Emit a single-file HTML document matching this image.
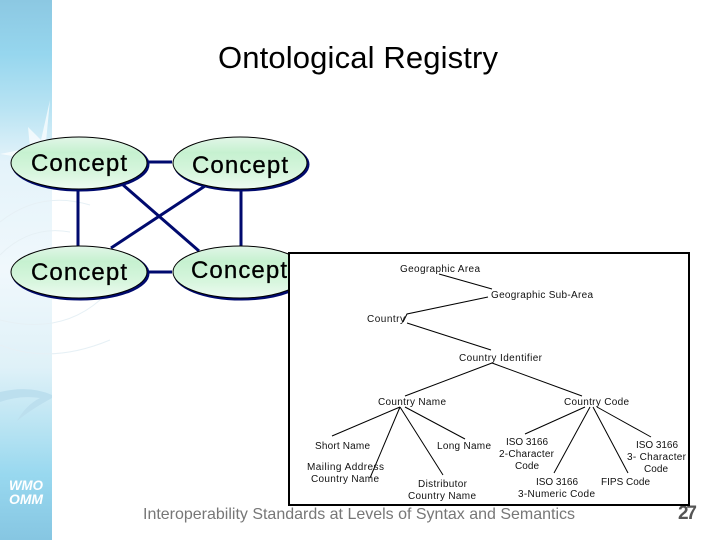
<!DOCTYPE html>
<html><head><meta charset="utf-8"><style>
html,body{margin:0;padding:0;background:#fff}
svg{display:block}
text{font-family:"Liberation Sans",sans-serif}
</style></head><body>
<svg width="720" height="540" viewBox="0 0 720 540" xmlns="http://www.w3.org/2000/svg">
<defs>
<linearGradient id="side" x1="0" y1="0" x2="0" y2="1">
<stop offset="0" stop-color="#8cc8e2"/><stop offset=".1" stop-color="#96d6ee"/><stop offset=".2" stop-color="#b8e3f3"/>
<stop offset=".3" stop-color="#e4f3fa"/><stop offset=".5" stop-color="#f0f8fc"/><stop offset=".68" stop-color="#dff1f8"/>
<stop offset=".78" stop-color="#bde5f3"/><stop offset=".88" stop-color="#98d8ef"/><stop offset="1" stop-color="#86c6e2"/>
</linearGradient>
<linearGradient id="ell" x1="0" y1="0" x2="0" y2="1">
<stop offset="0" stop-color="#e2f6e8"/><stop offset=".3" stop-color="#c6f1d0"/><stop offset=".7" stop-color="#d8f6de"/><stop offset="1" stop-color="#eefbf2"/>
</linearGradient>
</defs>
<rect width="720" height="540" fill="#fff"/>
<rect x="0" y="0" width="52" height="540" fill="url(#side)"/>
<path d="M50 100L46 142L52 150V162L38 160L0 154L30 148L28 127L41 140Z" fill="#fff" opacity=".7"/>
<g fill="none" stroke="#e6f0f5" stroke-width="1">
<path d="M0 222Q40 190 90 205"/><path d="M0 255Q30 225 70 232"/><path d="M0 320Q60 335 100 300"/><path d="M0 345Q50 365 110 340"/>
</g>
<path d="M0 392Q30 385 52 395V398Q30 410 17 421Q26 405 40 398Q20 395 0 402Z" fill="#bcdfee"/>
<text x="9" y="490" font-size="14" font-weight="bold" font-style="italic" fill="#fff" textLength="34" lengthAdjust="spacingAndGlyphs">WMO</text>
<text x="9" y="504" font-size="14" font-weight="bold" font-style="italic" fill="#fff" textLength="34" lengthAdjust="spacingAndGlyphs">OMM</text>

<text x="218" y="68" font-size="31" fill="#000" textLength="280">Ontological Registry</text>

<g stroke="#000a6e" stroke-width="3" fill="none">
<path d="M147 162H172M147 272H172M78 189V246M241 189V246M122 184L199 251M205 186L111 248"/>
</g>
<g stroke="#000" stroke-width="1" fill="url(#ell)">
<ellipse cx="80.5" cy="164.5" rx="68" ry="26" stroke="#000a6e" stroke-width="2" fill="#000a6e"/>
<ellipse cx="79" cy="163" rx="68" ry="26"/>
<ellipse cx="241.5" cy="164.5" rx="67" ry="26" stroke="#000a6e" stroke-width="2" fill="#000a6e"/>
<ellipse cx="240" cy="163" rx="67" ry="26"/>
<ellipse cx="80.5" cy="273.5" rx="68" ry="26" stroke="#000a6e" stroke-width="2" fill="#000a6e"/>
<ellipse cx="79" cy="272" rx="68" ry="26"/>
<ellipse cx="241.5" cy="273.5" rx="67" ry="26" stroke="#000a6e" stroke-width="2" fill="#000a6e"/>
<ellipse cx="240" cy="272" rx="67" ry="26"/>
</g>
<g font-size="24" fill="#000" stroke="#000" stroke-width=".3">
<text x="31" y="171" textLength="96">Concept</text>
<text x="192" y="173" textLength="96">Concept</text>
<text x="31" y="280" textLength="96">Concept</text>
<text x="191" y="278" textLength="96">Concept</text>
</g>

<text x="143" y="519" font-size="16" fill="#777" textLength="432">Interoperability Standards at Levels of Syntax and Semantics</text>
<text x="678" y="519" font-size="19" font-weight="bold" fill="#555" textLength="19">27</text>

<rect x="289" y="253" width="400" height="252" fill="#fff" stroke="#000" stroke-width="2"/>
<g stroke="#000" stroke-width="1" fill="none">
<path d="M439 274L492 289M488 297L407 314L403 322M407 323L491 350M492 363L405 396M492 363L582 396"/>
<path d="M400 407L332 436M400 407L370 478M400 407L443 475M405 407L465 439"/>
<path d="M585 407L525 434M590 407L554 473M593 407L628 473M597 407L651 437"/>
</g>
<g font-size="10" fill="#111">
<text x="400" y="272" textLength="80">Geographic Area</text>
<text x="491" y="298" textLength="102">Geographic Sub-Area</text>
<text x="367" y="322" textLength="38">Country</text>
<text x="459" y="361" textLength="83">Country Identifier</text>
<text x="378" y="405" textLength="68">Country Name</text>
<text x="564" y="405" textLength="65">Country Code</text>
<text x="315" y="449" textLength="55">Short Name</text>
<text x="437" y="449" textLength="54">Long Name</text>
<text x="307" y="470" textLength="77">Mailing Address</text>
<text x="311" y="482" textLength="68">Country Name</text>
<text x="418" y="487" textLength="49">Distributor</text>
<text x="408" y="499" textLength="68">Country Name</text>
<text x="506" y="445" textLength="42">ISO 3166</text>
<text x="499" y="457" textLength="55">2-Character</text>
<text x="515" y="469" textLength="24">Code</text>
<text x="536" y="485" textLength="42">ISO 3166</text>
<text x="518" y="497" textLength="77">3-Numeric Code</text>
<text x="601" y="485" textLength="49">FIPS Code</text>
<text x="636" y="448" textLength="42">ISO 3166</text>
<text x="627" y="460" textLength="59">3- Character</text>
<text x="644" y="472" textLength="24">Code</text>
</g>
</svg>
</body></html>
